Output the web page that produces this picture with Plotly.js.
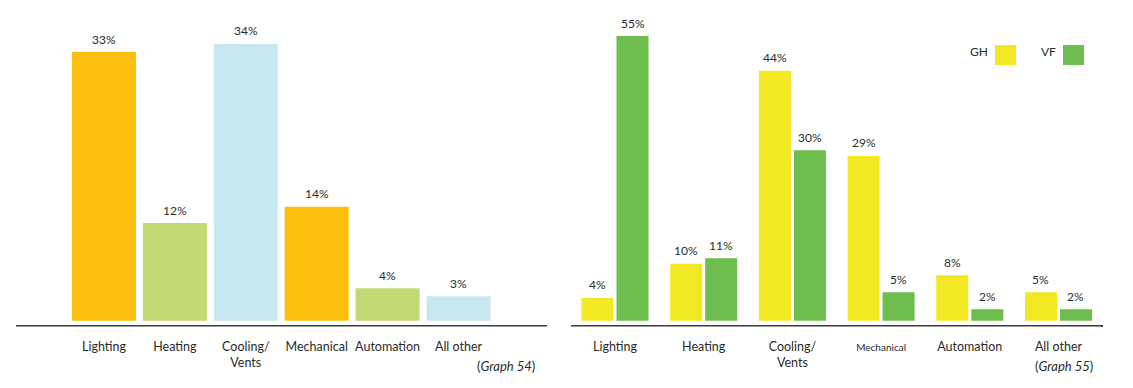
<!DOCTYPE html>
<html>
<head>
<meta charset="utf-8">
<script src="https://cdn.plot.ly/plotly-3.0.1.min.js"></script>
<style>html,body{margin:0;padding:0;background:#fff}#chart{width:1133px;height:388px}</style>
</head>
<body>
<div id="chart"></div>
<script>
// ---- Data ----
const categoriesLeft = ["Lighting", "Heating", "Cooling/<br>Vents", "Mechanical", "Automation", "All other"];
const valuesLeft = [33, 12, 34, 14, 4, 3];
const colorsLeft = ["#FDC010", "#C0D973", "#C8E8EF", "#FDC010", "#C0D973", "#C8E8EF"];

const categoriesRight = ["Lighting", "Heating", "Cooling/<br>Vents", "<span style='font-size:10px'>Mechanical</span>", "Automation", "All other"];
const seriesNames = ["GH", "VF"];
const valuesGH = [4, 10, 44, 29, 8, 5];
const valuesVF = [55, 11, 30, 5, 2, 2];
const colorGH = "#F2E823";
const colorVF = "#6DBE4F";

const sourceLeft = "(<i>Graph 54</i>)";
const sourceRight = "(<i>Graph 55</i>)";

// ---- Layout helpers ----
const W = 1133, H = 388;
const PT = 36, PB = 325, PH = PB - PT;           // plot area top/bottom in px
const py = p => (PB - p) / PH;                    // pixel row -> paper y
const px = p => p / W;                            // pixel col -> paper x
const leftYMax = 34.98, rightYMax = 50.1;
const font = "Lato, 'Liberation Sans', sans-serif";
const textColor = "#2b2b2b";

const idxL = categoriesLeft.map((_, i) => i);
const idxR = categoriesRight.map((_, i) => i);

const traces = [
  {
    type: "bar", x: idxL, y: valuesLeft, xaxis: "x", yaxis: "y",
    marker: {color: colorsLeft}, width: 0.903, hoverinfo: "skip", showlegend: false
  },
  {
    type: "bar", name: seriesNames[0], x: idxR, y: valuesGH, xaxis: "x2", yaxis: "y2",
    marker: {color: colorGH}, width: 0.361, offset: -0.378, hoverinfo: "skip", showlegend: false
  },
  {
    type: "bar", name: seriesNames[1], x: idxR, y: valuesVF, xaxis: "x2", yaxis: "y2",
    marker: {color: colorVF}, width: 0.361, offset: 0.017, hoverinfo: "skip", showlegend: false
  }
];

const labelFont = {family: font, size: 12, color: textColor};
const sourceFont = {family: font, size: 13, color: textColor};
const annotations = [];
valuesLeft.forEach((v, i) => annotations.push({
  xref: "x", yref: "y", x: i, y: Math.min(v, leftYMax), text: v + "%",
  showarrow: false, yanchor: "middle", yshift: 13, font: labelFont
}));
valuesGH.forEach((v, i) => annotations.push({
  xref: "x2", yref: "y2", x: i - 0.378 + 0.1805, y: Math.min(v, rightYMax), text: v + "%",
  showarrow: false, yanchor: "middle", yshift: 13, font: labelFont
}));
valuesVF.forEach((v, i) => annotations.push({
  xref: "x2", yref: "y2", x: i + 0.017 + 0.1805, y: Math.min(v, rightYMax), text: v + "%",
  showarrow: false, yanchor: "middle", yshift: 13, font: labelFont
}));
annotations.push({xref: "paper", yref: "paper", x: px(537), y: py(366), xanchor: "right", yanchor: "middle",
  text: sourceLeft, showarrow: false, font: sourceFont});
annotations.push({xref: "paper", yref: "paper", x: px(1064), y: py(366), xanchor: "center", yanchor: "middle",
  text: sourceRight, showarrow: false, font: sourceFont});

// legend (text left of swatch)
const legendItems = [
  {name: seriesNames[0], color: colorGH, x0: 995},
  {name: seriesNames[1], color: colorVF, x0: 1063}
];
const shapes = [];
legendItems.forEach(it => {
  shapes.push({type: "rect", xref: "paper", yref: "paper", x0: px(it.x0), x1: px(it.x0 + 21),
    y0: py(65), y1: py(45), fillcolor: it.color, line: {width: 0}});
  annotations.push({xref: "paper", yref: "paper", x: px(it.x0 - 5), y: py(52), xanchor: "right", yanchor: "middle",
    text: it.name, showarrow: false, font: labelFont});
});
// lighter underline beneath axis line
[[16, 547], [571, 1101]].forEach(([a, b]) => shapes.push({type: "line", xref: "paper", yref: "paper",
  x0: px(a), x1: px(b), y0: py(326.5), y1: py(326.5), line: {color: "#9a9a9a", width: 1}}));

const xCommon = {
  type: "linear", tickmode: "array", showgrid: false, zeroline: false,
  showline: true, linecolor: "#3c3c3c", linewidth: 2, ticks: "", ticklabelstandoff: 9,
  tickfont: {family: font, size: 12.5, color: textColor}, fixedrange: true
};
const yCommon = {showgrid: false, zeroline: false, showline: false, showticklabels: false, ticks: "", fixedrange: true};

const layout = {
  width: W, height: H,
  margin: {l: 0, r: 0, t: PT, b: H - PB, pad: 0},
  paper_bgcolor: "#fff", plot_bgcolor: "#fff",
  barmode: "overlay", showlegend: false,
  font: {family: font, color: textColor},
  xaxis: Object.assign({}, xCommon, {domain: [px(16), px(547)], range: [-1.241, 6.248],
    tickvals: idxL, ticktext: categoriesLeft, anchor: "y"}),
  yaxis: Object.assign({}, yCommon, {range: [-0.53, leftYMax], anchor: "x"}),
  xaxis2: Object.assign({}, xCommon, {domain: [px(571), px(1103)], range: [-0.496, 5.502],
    tickvals: idxR, ticktext: categoriesRight, anchor: "y2"}),
  yaxis2: Object.assign({}, yCommon, {range: [-0.76, rightYMax], anchor: "x2"}),
  annotations: annotations,
  shapes: shapes
};

Plotly.newPlot("chart", traces, layout, {staticPlot: true, displayModeBar: false});
</script>
</body>
</html>
